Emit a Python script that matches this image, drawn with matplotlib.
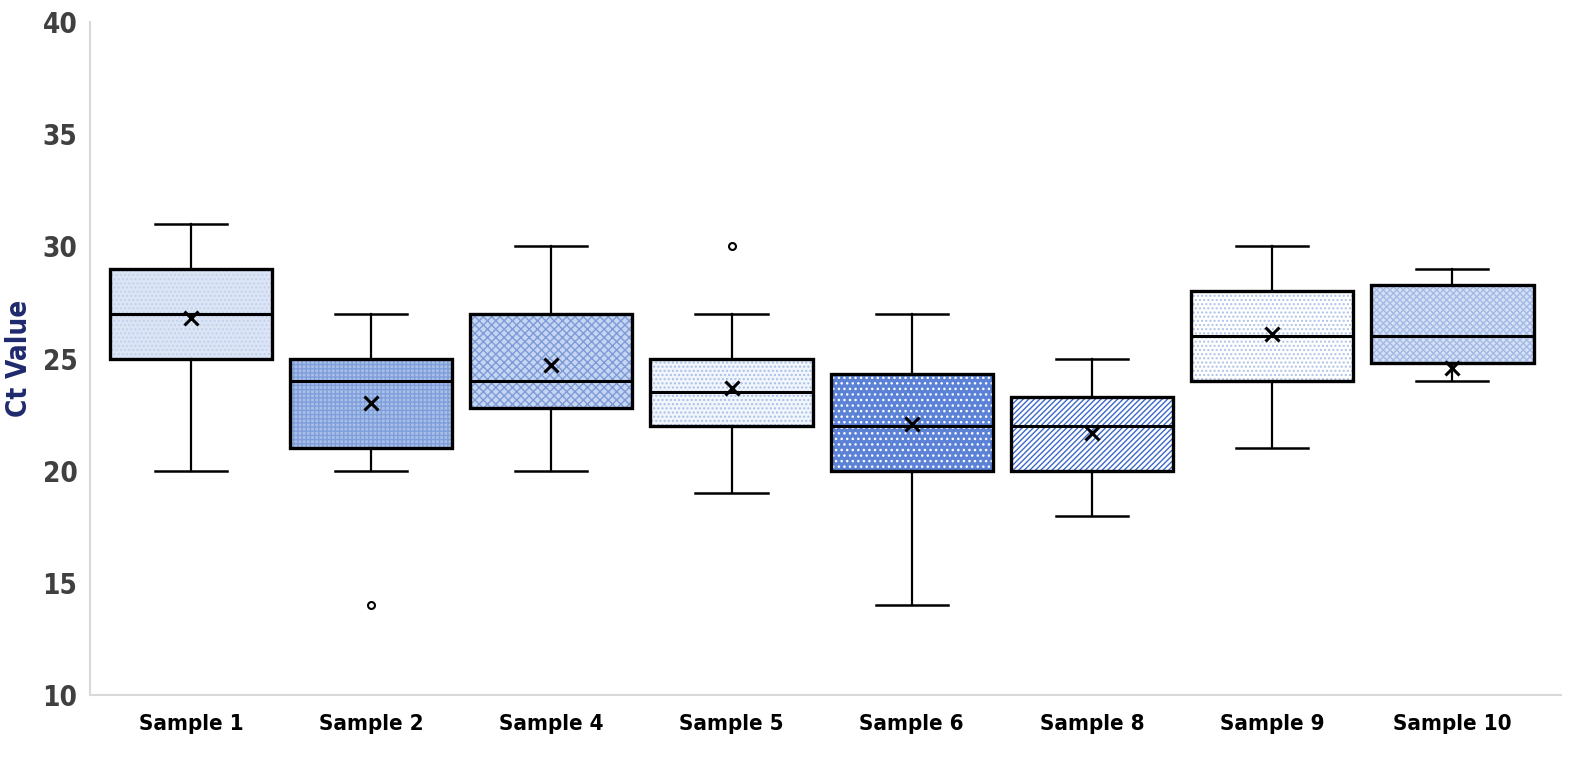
#!/usr/bin/env python3
import matplotlib
matplotlib.use("Agg")
import matplotlib.pyplot as plt
from matplotlib.patches import PathPatch

# Data (Ct values)
samples = ["Sample 1", "Sample 2", "Sample 4", "Sample 5",
           "Sample 6", "Sample 8", "Sample 9", "Sample 10"]
whisker_low = [20.0, 20.0, 20.0, 19.0, 14.0, 18.0, 21.0, 24.0]
q1 = [25.0, 21.0, 22.8, 22.0, 20.0, 20.0, 24.0, 24.8]
median = [27.0, 24.0, 24.0, 23.5, 22.0, 22.0, 26.0, 26.0]
q3 = [29.0, 25.0, 27.0, 25.0, 24.3, 23.3, 28.0, 28.3]
whisker_high = [31.0, 27.0, 30.0, 27.0, 27.0, 25.0, 30.0, 29.0]
mean = [26.8, 23.0, 24.7, 23.7, 22.1, 21.7, 26.1, 24.6]
outliers = [[], [14.0], [], [30.0], [], [], [], []]

# fill / hatch styling per box
face_colors = ["#dce5f5", "#a9bfe8", "#c6d5f1", "#f1f5fc",
               "#5b82d7", "#ffffff", "#ffffff", "#d6e1f5"]
hatch_colors = ["#c2d2ee", "#7f9fdc", "#7d9bd8", "#a9bfe8",
                "#ffffff", "#3d69c8", "#adc2e9", "#a3b9e6"]
hatches = ["....", "++++", "xxxx", "....", "...", "//////", "....", "xxxxx"]

plt.rcParams["font.family"] = ["DejaVu Sans"]
plt.rcParams["font.stretch"] = "condensed"
plt.rcParams["hatch.linewidth"] = 1.0

fig = plt.figure(figsize=(15.95, 7.64), dpi=100)
ax = fig.add_axes([0.0564, 0.0903, 0.922, 0.8807])

stats = []
for i, name in enumerate(samples):
    stats.append({
        "label": name,
        "whislo": whisker_low[i],
        "q1": q1[i],
        "med": median[i],
        "q3": q3[i],
        "whishi": whisker_high[i],
        "mean": mean[i],
        "fliers": outliers[i],
    })

positions = list(range(1, len(samples) + 1))
bp = ax.bxp(stats, positions=positions, widths=0.9, capwidths=0.4,
            patch_artist=True, showmeans=True,
            boxprops=dict(linewidth=0),
            medianprops=dict(color="black", linewidth=2.2),
            whiskerprops=dict(color="black", linewidth=1.6),
            capprops=dict(color="black", linewidth=1.8),
            meanprops=dict(marker="x", markeredgecolor="black",
                           markeredgewidth=2.2, markersize=10),
            flierprops=dict(marker="o", markerfacecolor="white",
                            markeredgecolor="black", markersize=5,
                            markeredgewidth=1.5))

for i, box in enumerate(bp["boxes"]):
    box.set_facecolor(face_colors[i])
    box.set_edgecolor(hatch_colors[i])
    box.set_hatch(hatches[i])
    box.set_linewidth(0)
    outline = PathPatch(box.get_path(), facecolor="none", edgecolor="black",
                        linewidth=2.4, zorder=box.get_zorder() + 0.1)
    ax.add_patch(outline)

for line in bp["medians"]:
    line.set_zorder(3)
for line in bp["means"]:
    line.set_zorder(4)

ax.set_xlim(0.44, 8.6)
ax.set_ylim(10, 40)
ax.set_yticks([10, 15, 20, 25, 30, 35, 40])
ax.set_xticks(positions)
ax.set_xticklabels(samples)

for s in ["top", "right"]:
    ax.spines[s].set_visible(False)
for s in ["left", "bottom"]:
    ax.spines[s].set_color("#d9d9d9")
    ax.spines[s].set_linewidth(1.5)

ax.tick_params(axis="both", length=0)
ax.tick_params(axis="y", pad=9, labelsize=20, labelcolor="#404040")
ax.tick_params(axis="x", pad=14, labelsize=16, labelcolor="black")
for lbl in ax.get_yticklabels() + ax.get_xticklabels():
    lbl.set_fontweight("bold")

ax.set_ylabel("Ct Value", fontsize=20, fontweight="bold", color="#1f2a6e")
ax.yaxis.set_label_coords(-0.039, 0.5)

fig.savefig("out.png", dpi=100)
